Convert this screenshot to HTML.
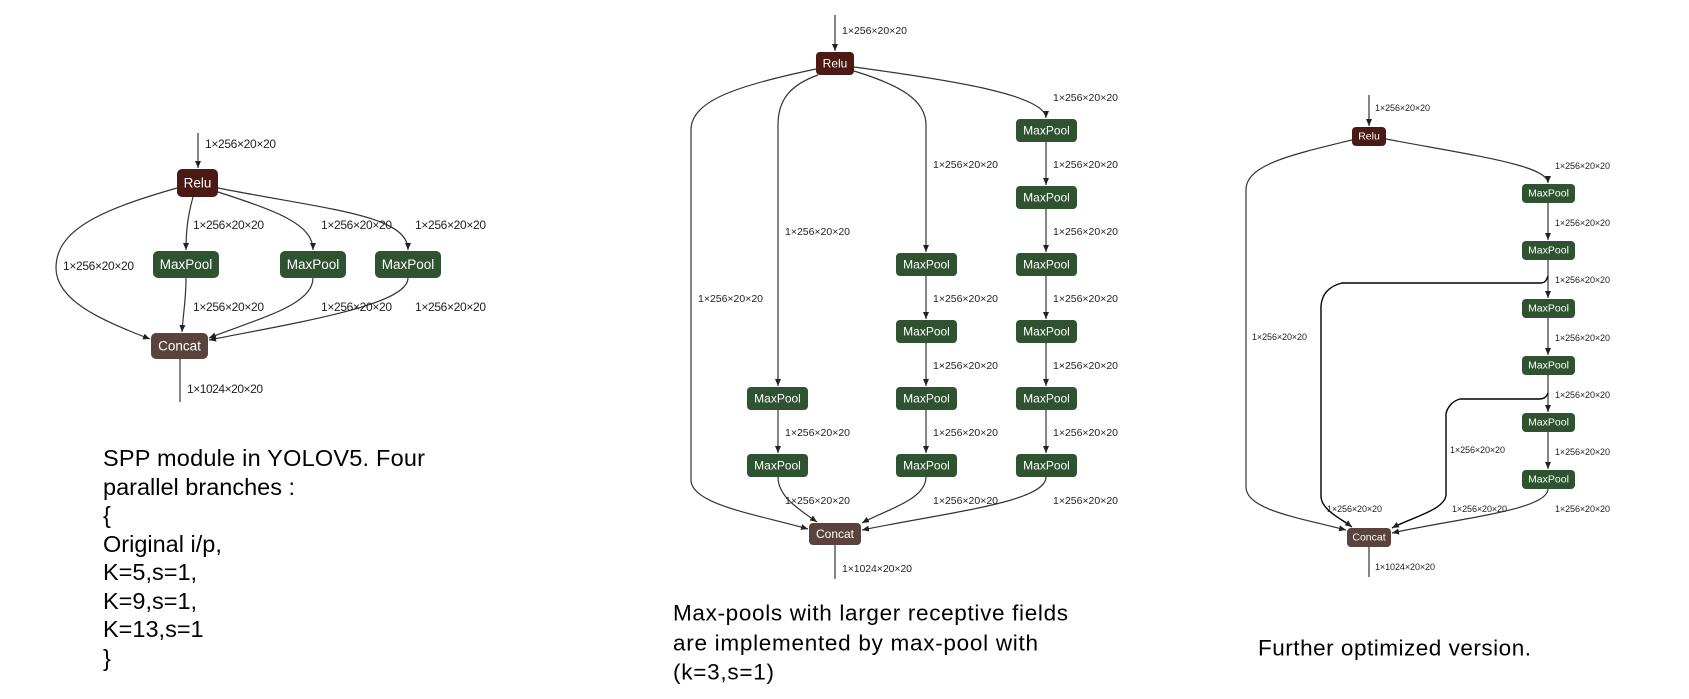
<!DOCTYPE html>
<html><head><meta charset="utf-8"><style>
html,body{margin:0;padding:0;background:#fff;}
svg{display:block;}
.l1{font:12px "Liberation Sans",sans-serif;fill:#222;}
.l2{font:10.5px "Liberation Sans",sans-serif;fill:#222;}
.l3{font:9px "Liberation Sans",sans-serif;fill:#222;}
.n1{font:13.5px "Liberation Sans",sans-serif;fill:#fff;}
.n2{font:12px "Liberation Sans",sans-serif;fill:#fff;}
.n3{font:10.5px "Liberation Sans",sans-serif;fill:#fff;}
.cap{font:23.5px "Liberation Sans",sans-serif;fill:#000;}
.cap2{font:22.5px "Liberation Sans",sans-serif;fill:#000;}
path.e{fill:none;stroke:#333;stroke-width:1.2;}
path.k{fill:none;stroke:#000;stroke-width:1.4;}
</style></head><body>
<svg width="1689" height="699" viewBox="0 0 1689 699" xmlns="http://www.w3.org/2000/svg">
<defs>
<marker id="a" markerWidth="8" markerHeight="8" refX="7" refY="4" orient="auto" markerUnits="userSpaceOnUse">
<path d="M0,1 L7,4 L0,7 Z" fill="#222"/></marker>
</defs>

<!-- Panel 1 -->
<path class="e" d="M198,133 L198,168" marker-end="url(#a)"/>
<path class="e" d="M177,188 C100,210 56,230 56,268 C56,300 100,320 150,339" marker-end="url(#a)"/>
<path class="e" d="M193,197 C188,215 186,230 186,250" marker-end="url(#a)"/>
<path class="e" d="M218,192 C280,212 313,225 313,250" marker-end="url(#a)"/>
<path class="e" d="M218,188 C330,210 408,215 408,250" marker-end="url(#a)"/>
<path class="e" d="M186,278 C186,300 183,315 182,332" marker-end="url(#a)"/>
<path class="e" d="M313,278 C313,305 260,318 209,338" marker-end="url(#a)"/>
<path class="e" d="M408,278 C408,305 300,322 209,340" marker-end="url(#a)"/>
<path class="e" d="M180,359 L180,402"/>
<rect x="177" y="169" width="41" height="28" rx="5" fill="#4c1a15"/>
<text class="n1" x="197.5" y="183" text-anchor="middle" dominant-baseline="central">Relu</text>
<rect x="153" y="251" width="66" height="27" rx="5" fill="#2f5330"/>
<text class="n1" x="186" y="264.5" text-anchor="middle" dominant-baseline="central">MaxPool</text>
<rect x="280" y="251" width="66" height="27" rx="5" fill="#2f5330"/>
<text class="n1" x="313" y="264.5" text-anchor="middle" dominant-baseline="central">MaxPool</text>
<rect x="375" y="251" width="66" height="27" rx="5" fill="#2f5330"/>
<text class="n1" x="408" y="264.5" text-anchor="middle" dominant-baseline="central">MaxPool</text>
<rect x="151" y="333" width="57" height="26" rx="5" fill="#5a433d"/>
<text class="n1" x="179.5" y="346" text-anchor="middle" dominant-baseline="central">Concat</text>
<g class="l1" dominant-baseline="central">
<text x="205" y="144" textLength="71">1×256×20×20</text>
<text x="193" y="225" textLength="71">1×256×20×20</text>
<text x="321" y="225" textLength="71">1×256×20×20</text>
<text x="415" y="225" textLength="71">1×256×20×20</text>
<text x="63" y="266" textLength="71">1×256×20×20</text>
<text x="193" y="307" textLength="71">1×256×20×20</text>
<text x="321" y="307" textLength="71">1×256×20×20</text>
<text x="415" y="307" textLength="71">1×256×20×20</text>
<text x="187" y="389" textLength="76">1×1024×20×20</text>
</g>
<g class="cap" dominant-baseline="central">
<text x="103" y="458" textLength="322">SPP module in YOLOV5. Four</text>
<text x="103" y="487">parallel branches :</text>
<text x="103" y="515">{</text>
<text x="103" y="544">Original i/p,</text>
<text x="103" y="572">K=5,s=1,</text>
<text x="103" y="601">K=9,s=1,</text>
<text x="103" y="629">K=13,s=1</text>
<text x="103" y="658">}</text>
</g>

<!-- Panel 2 -->
<path class="e" d="M835,15 L835,51" marker-end="url(#a)"/>
<path class="e" d="M816,69 C740,85 691,100 691,130 L691,480 C691,505 760,515 808,529" marker-end="url(#a)"/>
<path class="e" d="M818,75 C790,85 778,100 778,125 L778,386" marker-end="url(#a)"/>
<path class="e" d="M854,71 C900,85 926,100 926,125 L926,252" marker-end="url(#a)"/>
<path class="e" d="M854,67 C950,80 1046,95 1046,118" marker-end="url(#a)"/>
<path class="e" d="M1046,142 L1046,185" marker-end="url(#a)"/>
<path class="e" d="M1046,209 L1046,252" marker-end="url(#a)"/>
<path class="e" d="M1046,276 L1046,319" marker-end="url(#a)"/>
<path class="e" d="M1046,343 L1046,386" marker-end="url(#a)"/>
<path class="e" d="M1046,410 L1046,453" marker-end="url(#a)"/>
<path class="e" d="M926,276 L926,319" marker-end="url(#a)"/>
<path class="e" d="M926,343 L926,386" marker-end="url(#a)"/>
<path class="e" d="M926,410 L926,453" marker-end="url(#a)"/>
<path class="e" d="M778,410 L778,453" marker-end="url(#a)"/>
<path class="e" d="M778,477 C778,497 800,510 817,522" marker-end="url(#a)"/>
<path class="e" d="M926,477 C926,500 885,510 862,523" marker-end="url(#a)"/>
<path class="e" d="M1046,477 C1046,502 950,512 862,530" marker-end="url(#a)"/>
<path class="e" d="M835,545 L835,579"/>
<rect x="816" y="52" width="38" height="23" rx="4" fill="#4c1a15"/>
<text class="n2" x="835" y="63.5" text-anchor="middle" dominant-baseline="central">Relu</text>
<g fill="#2f5330">
<rect x="1016" y="119" width="61" height="23" rx="4"/>
<rect x="1016" y="186" width="61" height="23" rx="4"/>
<rect x="1016" y="253" width="61" height="23" rx="4"/>
<rect x="1016" y="320" width="61" height="23" rx="4"/>
<rect x="1016" y="387" width="61" height="23" rx="4"/>
<rect x="1016" y="454" width="61" height="23" rx="4"/>
<rect x="896" y="253" width="61" height="23" rx="4"/>
<rect x="896" y="320" width="61" height="23" rx="4"/>
<rect x="896" y="387" width="61" height="23" rx="4"/>
<rect x="896" y="454" width="61" height="23" rx="4"/>
<rect x="747" y="387" width="61" height="23" rx="4"/>
<rect x="747" y="454" width="61" height="23" rx="4"/>
</g>
<g class="n2" text-anchor="middle" dominant-baseline="central">
<text x="1046.5" y="130.5">MaxPool</text>
<text x="1046.5" y="197.5">MaxPool</text>
<text x="1046.5" y="264.5">MaxPool</text>
<text x="1046.5" y="331.5">MaxPool</text>
<text x="1046.5" y="398.5">MaxPool</text>
<text x="1046.5" y="465.5">MaxPool</text>
<text x="926.5" y="264.5">MaxPool</text>
<text x="926.5" y="331.5">MaxPool</text>
<text x="926.5" y="398.5">MaxPool</text>
<text x="926.5" y="465.5">MaxPool</text>
<text x="777.5" y="398.5">MaxPool</text>
<text x="777.5" y="465.5">MaxPool</text>
</g>
<rect x="809" y="523" width="52" height="22" rx="4" fill="#5a433d"/>
<text class="n2" x="835" y="534" text-anchor="middle" dominant-baseline="central">Concat</text>
<g class="l2" dominant-baseline="central">
<text x="842" y="31" textLength="65">1×256×20×20</text>
<text x="1053" y="98" textLength="65">1×256×20×20</text>
<text x="1053" y="165" textLength="65">1×256×20×20</text>
<text x="1053" y="232" textLength="65">1×256×20×20</text>
<text x="1053" y="299" textLength="65">1×256×20×20</text>
<text x="1053" y="366" textLength="65">1×256×20×20</text>
<text x="1053" y="433" textLength="65">1×256×20×20</text>
<text x="1053" y="501" textLength="65">1×256×20×20</text>
<text x="933" y="165" textLength="65">1×256×20×20</text>
<text x="933" y="299" textLength="65">1×256×20×20</text>
<text x="933" y="366" textLength="65">1×256×20×20</text>
<text x="933" y="433" textLength="65">1×256×20×20</text>
<text x="933" y="501" textLength="65">1×256×20×20</text>
<text x="785" y="232" textLength="65">1×256×20×20</text>
<text x="785" y="433" textLength="65">1×256×20×20</text>
<text x="785" y="501" textLength="65">1×256×20×20</text>
<text x="698" y="299" textLength="65">1×256×20×20</text>
<text x="842" y="569" textLength="70">1×1024×20×20</text>
</g>
<g class="cap2" dominant-baseline="central">
<text x="673" y="613" textLength="395">Max-pools with larger receptive fields</text>
<text x="673" y="643" textLength="365">are implemented by max-pool with</text>
<text x="673" y="672" textLength="101">(k=3,s=1)</text>
</g>

<!-- Panel 3 -->
<path class="e" d="M1369,95 L1369,126" marker-end="url(#a)"/>
<path class="e" d="M1352,140 C1290,155 1246,165 1246,190 L1246,487 C1246,510 1300,518 1346,530" marker-end="url(#a)"/>
<path class="e" d="M1386,139 C1470,155 1548,165 1548,183" marker-end="url(#a)"/>
<path class="e" d="M1548,203 L1548,240" marker-end="url(#a)"/>
<path class="e" d="M1548,260 L1548,298" marker-end="url(#a)"/>
<path class="e" d="M1548,318 L1548,355" marker-end="url(#a)"/>
<path class="e" d="M1548,375 L1548,412" marker-end="url(#a)"/>
<path class="e" d="M1548,432 L1548,469" marker-end="url(#a)"/>
<path class="k" d="M1548,276 C1546,282 1544,283 1540,283 L1342,283 C1330,286 1322,293 1321,306 L1321,497 C1322,510 1340,518 1352,527" marker-end="url(#a)"/>
<path class="k" d="M1548,393 C1546,398 1543,399 1539,399 L1460,399 C1452,401 1447,408 1446,414 L1446,495 C1445,510 1410,518 1392,528" marker-end="url(#a)"/>
<path class="e" d="M1548,489 C1548,510 1460,518 1392,533" marker-end="url(#a)"/>
<path class="e" d="M1369,547 L1369,577"/>
<rect x="1352" y="127" width="34" height="19" rx="4" fill="#4c1a15"/>
<text class="n3" x="1369" y="136.5" text-anchor="middle" dominant-baseline="central">Relu</text>
<g fill="#2f5330">
<rect x="1522" y="184" width="53" height="19" rx="4"/>
<rect x="1522" y="241" width="53" height="19" rx="4"/>
<rect x="1522" y="299" width="53" height="19" rx="4"/>
<rect x="1522" y="356" width="53" height="19" rx="4"/>
<rect x="1522" y="413" width="53" height="19" rx="4"/>
<rect x="1522" y="470" width="53" height="19" rx="4"/>
</g>
<g class="n3" text-anchor="middle" dominant-baseline="central">
<text x="1548.5" y="193.5">MaxPool</text>
<text x="1548.5" y="250.5">MaxPool</text>
<text x="1548.5" y="308.5">MaxPool</text>
<text x="1548.5" y="365.5">MaxPool</text>
<text x="1548.5" y="422.5">MaxPool</text>
<text x="1548.5" y="479.5">MaxPool</text>
</g>
<rect x="1347" y="528" width="44" height="19" rx="4" fill="#5a433d"/>
<text class="n3" x="1369" y="537.5" text-anchor="middle" dominant-baseline="central">Concat</text>
<g class="l3" dominant-baseline="central">
<text x="1375" y="108" textLength="55">1×256×20×20</text>
<text x="1555" y="166" textLength="55">1×256×20×20</text>
<text x="1555" y="223" textLength="55">1×256×20×20</text>
<text x="1555" y="280" textLength="55">1×256×20×20</text>
<text x="1555" y="338" textLength="55">1×256×20×20</text>
<text x="1555" y="395" textLength="55">1×256×20×20</text>
<text x="1555" y="452" textLength="55">1×256×20×20</text>
<text x="1555" y="509" textLength="55">1×256×20×20</text>
<text x="1252" y="337" textLength="55">1×256×20×20</text>
<text x="1327" y="509" textLength="55">1×256×20×20</text>
<text x="1450" y="450" textLength="55">1×256×20×20</text>
<text x="1452" y="509" textLength="55">1×256×20×20</text>
<text x="1375" y="567" textLength="60">1×1024×20×20</text>
</g>
<text class="cap2" x="1258" y="648" dominant-baseline="central" textLength="273">Further optimized version.</text>
</svg>
</body></html>
